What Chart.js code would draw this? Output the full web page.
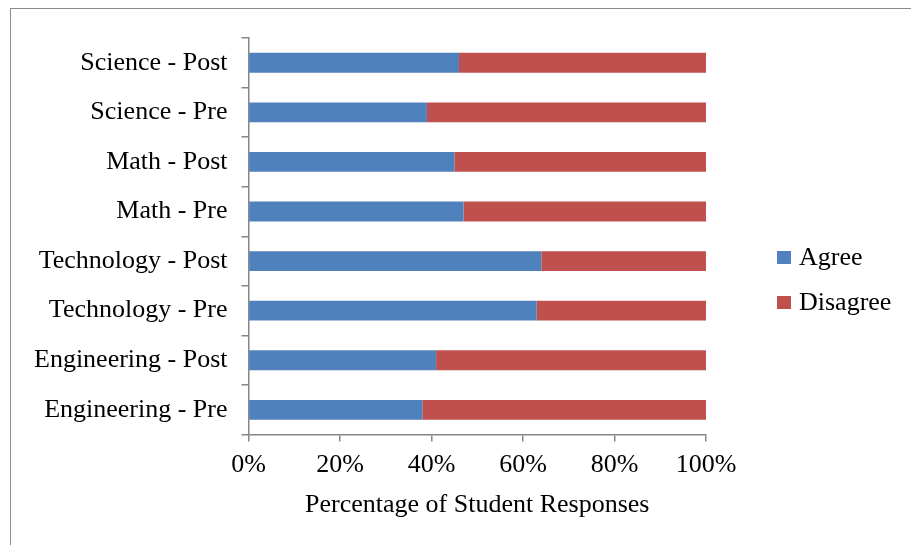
<!DOCTYPE html>
<html>
<head>
<meta charset="utf-8">
<script src="https://cdn.jsdelivr.net/npm/chart.js@4"></script>
<style>
  html, body { margin: 0; padding: 0; background: #fff; }
  #wrap { position: relative; width: 911px; height: 545px; overflow: hidden; }
  #frame { position: absolute; left: 10px; top: 8px; width: 1000px; height: 1000px; border: 1.5px solid #8c8c8c; box-sizing: border-box; }
  canvas { position: absolute; left: 0; top: 0; }
  #legend { position: absolute; left: 777px; top: 240px; font-family: "Liberation Serif", "Times New Roman", serif; font-size: 26px; color: #000; }
  .item { position: relative; height: 45px; line-height: 34px; padding-left: 22px; white-space: nowrap; }
  .sw { position: absolute; left: 0; top: 11px; width: 14px; height: 13px; }
</style>
</head>
<body>
<div id="wrap">
  <div id="frame"></div>
  <canvas id="c" width="911" height="545"></canvas>
  <div id="legend"></div>
</div>
<script>
const categories = ["Science - Post", "Science - Pre", "Math - Post", "Math - Pre", "Technology - Post", "Technology - Pre", "Engineering - Post", "Engineering - Pre"];
const agree = [46, 39, 45, 47, 64, 63, 41, 38];
const disagree = [54, 61, 55, 53, 36, 37, 59, 62];
const seriesNames = ["Agree", "Disagree"];
const seriesColors = ["#4F81BD", "#C0504D"];
const xTicks = [0, 20, 40, 60, 80, 100];
const xTitle = "Percentage of Student Responses";

const font = { family: "'Liberation Serif', 'Times New Roman', serif", size: 26 };

new Chart(document.getElementById('c'), {
  type: 'bar',
  data: {
    labels: categories,
    datasets: [
      { label: seriesNames[0], data: agree, backgroundColor: seriesColors[0], barPercentage: 0.4, categoryPercentage: 1 },
      { label: seriesNames[1], data: disagree, backgroundColor: seriesColors[1], barPercentage: 0.4, categoryPercentage: 1 }
    ]
  },
  options: {
    indexAxis: 'y',
    responsive: false,
    animation: false,
    devicePixelRatio: 1,
    layout: { padding: { left: 20, right: 205, top: 38, bottom: 24 } },
    plugins: { legend: { display: false }, tooltip: { enabled: false } },
    scales: {
      x: {
        stacked: true,
        min: 0, max: 100,
        afterBuildTicks: (s) => { s.ticks = xTicks.map(v => ({ value: v })); },
        ticks: { color: '#000', font: font, padding: 8, callback: v => v + '%' },
        grid: { drawOnChartArea: false, color: '#868686', tickLength: 7, lineWidth: 1.5 },
        border: { color: '#868686', width: 1.5 },
        title: { display: true, text: xTitle, color: '#000', font: font, padding: { top: 1, bottom: 0 } }
      },
      y: {
        stacked: true,
        ticks: { color: '#000', font: font, padding: 14 },
        grid: { drawOnChartArea: false, color: '#868686', tickLength: 7, lineWidth: 1.5, offset: true },
        border: { color: '#868686', width: 1.5 }
      }
    }
  }
});

const lg = document.getElementById('legend');
seriesNames.forEach((n, i) => {
  const d = document.createElement('div');
  d.className = 'item';
  const sw = document.createElement('span');
  sw.className = 'sw';
  sw.style.background = seriesColors[i];
  d.appendChild(sw);
  d.appendChild(document.createTextNode(n));
  lg.appendChild(d);
});
</script>
</body>
</html>
